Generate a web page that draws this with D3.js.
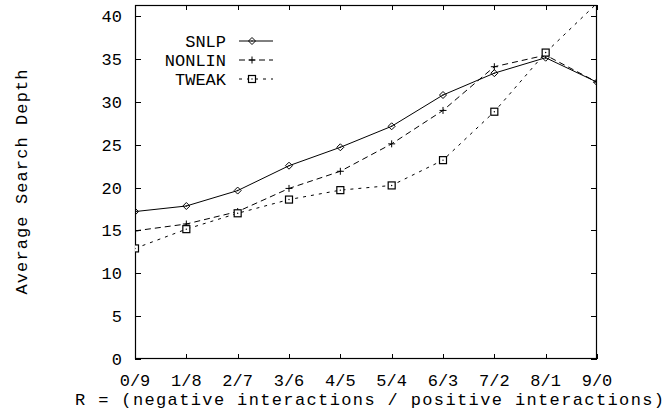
<!DOCTYPE html>
<html><head><meta charset="utf-8">
<script src="https://cdn.jsdelivr.net/npm/d3@7/dist/d3.min.js"></script>
<style>
html,body{margin:0;padding:0;background:#fff;}
svg text{font-family:"Liberation Mono","DejaVu Sans Mono",monospace;fill:#000;}
</style></head>
<body><svg id="c" width="668" height="411"></svg>
<script>
const categories = ["0/9","1/8","2/7","3/6","4/5","5/4","6/3","7/2","8/1","9/0"];
const snlp   = [17.2, 17.85, 19.65, 22.55, 24.7, 27.15, 30.8, 33.35, 35.15, 32.3];
const nonlin = [14.95, 15.75, 17.2, 19.9, 21.9, 25.1, 29.0, 34.1, 35.45, 32.3];
const tweak  = [12.9, 15.15, 17.0, 18.6, 19.7, 20.25, 23.2, 28.85, 35.75, 41.5];
const yTicks = [0,5,10,15,20,25,30,35,40];
const seriesNames = ["SNLP","NONLIN","TWEAK"];
const yTitle = "Average Search Depth";
const xTitle = "R = (negative interactions / positive interactions)";

const svg = d3.select("#c");
const L=135, R=597, T=5, B=359;
const x = d3.scalePoint().domain(categories).range([L,R]);
const y = d3.scaleLinear().domain([0,41.3]).range([B,T]);
const FS = 17;

svg.append("defs").append("clipPath").attr("id","clip")
  .append("rect").attr("x",L).attr("y",T).attr("width",R-L).attr("height",B-T);

// ticks inward, mirrored
const g = svg.append("g").attr("stroke","#000").attr("stroke-width",1).attr("shape-rendering","crispEdges");
yTicks.forEach(v=>{
  const yy = Math.round(y(v))+0.5;
  g.append("line").attr("x1",L).attr("x2",L+6).attr("y1",yy).attr("y2",yy);
  g.append("line").attr("x1",R-6).attr("x2",R).attr("y1",yy).attr("y2",yy);
});
categories.forEach(c=>{
  const xx = Math.round(x(c))+0.5;
  g.append("line").attr("x1",xx).attr("x2",xx).attr("y1",B).attr("y2",B-5);
  g.append("line").attr("x1",xx).attr("x2",xx).attr("y1",T).attr("y2",T+5);
});
svg.append("rect").attr("x",L+0.5).attr("y",T+0.5).attr("width",R-L-1).attr("height",B-T-1)
  .attr("fill","none").attr("stroke","#000").attr("stroke-width",1.2);

// tick labels
svg.append("g").selectAll("text").data(yTicks).join("text")
  .attr("x",122).attr("y",d=>y(d)).attr("dy","0.35em").attr("text-anchor","end")
  .attr("font-size",FS).text(d=>d);
svg.append("g").selectAll("text").data(categories).join("text")
  .attr("x",d=>x(d)).attr("y",380).attr("dy","0.35em").attr("text-anchor","middle")
  .attr("font-size",FS).text(d=>d);
svg.append("text").attr("x",369.5).attr("y",399).attr("dy","0.35em").attr("text-anchor","middle")
  .attr("font-size",FS).attr("textLength",589).attr("lengthAdjust","spacing").text(xTitle);
svg.append("text").attr("transform","translate(21,182) rotate(-90)").attr("dy","0.35em")
  .attr("text-anchor","middle").attr("font-size",FS).attr("textLength",225).attr("lengthAdjust","spacing").text(yTitle);

const styles = [
  {data:snlp, dash:null, mark:"diamond"},
  {data:nonlin, dash:"6,4", mark:"plus"},
  {data:tweak, dash:"3,5", mark:"square"}
];
const line = d3.line().x((d,i)=>x(categories[i])).y(d=>y(d));
const plot = svg.append("g").attr("clip-path","url(#clip)");

function marker(sel, type, cx, cy){
  const s=3.5;
  if(type==="diamond"){
    sel.append("path").attr("d",`M${cx},${cy-s}L${cx+s},${cy}L${cx},${cy+s}L${cx-s},${cy}Z`)
      .attr("fill","none").attr("stroke","#000").attr("stroke-width",1);
    sel.append("circle").attr("cx",cx).attr("cy",cy).attr("r",0.7).attr("fill","#000");
  } else if(type==="plus"){
    sel.append("path").attr("d",`M${cx-s},${cy}H${cx+s}M${cx},${cy-s}V${cy+s}`)
      .attr("fill","none").attr("stroke","#000").attr("stroke-width",1);
  } else {
    sel.append("rect").attr("x",cx-s).attr("y",cy-s).attr("width",2*s).attr("height",2*s)
      .attr("fill","#fff").attr("stroke","#000").attr("stroke-width",1.2);
    sel.append("circle").attr("cx",cx).attr("cy",cy).attr("r",0.7).attr("fill","#000");
  }
}

styles.forEach((st,k)=>{
  plot.append("path").datum(st.data).attr("d",line).attr("fill","none")
    .attr("stroke","#000").attr("stroke-width",1).attr("stroke-dasharray",st.dash);
});
styles.forEach(st=>{
  st.data.forEach((v,i)=>{ if(v<=41.3) marker(plot, st.mark, x(categories[i]), y(v)); });
});

// legend
const legY = [41,60,79];
seriesNames.forEach((n,k)=>{
  svg.append("text").attr("x",226).attr("y",legY[k]).attr("dy","0.35em").attr("text-anchor","end")
    .attr("font-size",FS).text(n);
  svg.append("line").attr("x1",239).attr("x2",273).attr("y1",legY[k]).attr("y2",legY[k])
    .attr("stroke","#000").attr("stroke-width",1).attr("stroke-dasharray",styles[k].dash);
  marker(svg, styles[k].mark, 252, legY[k]);
});
</script></body></html>
